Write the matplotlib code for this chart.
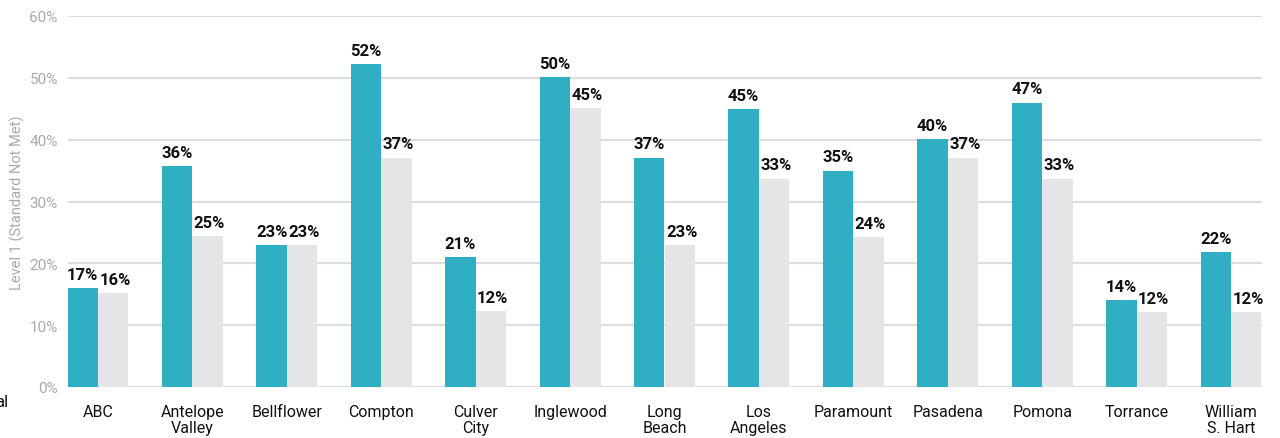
import numpy as np
import matplotlib
matplotlib.use('Agg')
import matplotlib.pyplot as plt

# districts and values
districts = ['ABC', 'Antelope\nValley', 'Bellflower', 'Compton', 'Culver\nCity', 'Inglewood',
             'Long\nBeach', 'Los\nAngeles', 'Paramount', 'Pasadena', 'Pomona', 'Torrance',
             'William\nS. Hart']
# bar heights (%)
teal_vals = [16.0, 35.7, 23.0, 52.2, 21.0, 50.1, 37.1, 45.0, 35.0, 40.1, 46.0, 14.1, 21.8]
gray_vals = [15.2, 24.4, 23.0, 37.1, 12.3, 45.1, 23.0, 33.7, 24.3, 37.1, 33.7, 12.1, 12.1]
# printed labels (%)
teal_labels = [17, 36, 23, 52, 21, 50, 37, 45, 35, 40, 47, 14, 22]
gray_labels = [16, 25, 23, 37, 12, 45, 23, 33, 24, 37, 33, 12, 12]
y_ticks = [0, 10, 20, 30, 40, 50, 60]

TEAL = '#30AEC4'
GRAY = '#E4E5E7'
plt.rcParams['font.family'] = ['Roboto', 'DejaVu Sans']

fig = plt.figure(figsize=(12.8, 4.39), dpi=100)
ax = fig.add_axes([67.5 / 1280, 1 - 388 / 439, (1261.5 - 67.5) / 1280, (388 - 17) / 439])

x = np.arange(len(districts))
w = 0.323
ax.bar(x - w / 2, teal_vals, w, color=TEAL, zorder=3)
ax.bar(x + w / 2, gray_vals, w, color=GRAY, zorder=3)

for i in range(len(districts)):
    ax.text(x[i] - w / 2, teal_vals[i] + 1.0, f'{teal_labels[i]}%', ha='center', va='bottom',
            fontsize=12, fontweight='bold', color='#111111', zorder=4)
    ax.text(x[i] + w / 2 + 0.02, gray_vals[i] + 1.0, f'{gray_labels[i]}%', ha='center', va='bottom',
            fontsize=12, fontweight='bold', color='#111111', zorder=4)

ax.set_xlim(-w, len(districts) - 1 + w)
ax.set_ylim(0, 60)
ax.set_yticks(y_ticks)
ax.set_yticklabels([f'{t}%' for t in y_ticks])
ax.set_xticks(x)
ax.set_xticklabels(districts, fontsize=11.5, color='#111111', linespacing=1.15)
ax.tick_params(axis='y', colors='#AAAAAA', labelsize=11, length=0, pad=7)
ax.tick_params(axis='x', length=0, pad=12)
ax.yaxis.grid(True, color='#DDDDDD', linewidth=1.5, zorder=0)
for s in ax.spines.values():
    s.set_visible(False)
ax.set_ylabel('Level 1 (Standard Not Met)', color='#AAAAAA', fontsize=10.5, labelpad=3)

# clipped legend text at the left edge
fig.text(-0.004, 1 - 403 / 439, 'al', fontsize=12, color='#111111', va='center', ha='left')

fig.savefig('out.png', dpi=100)
